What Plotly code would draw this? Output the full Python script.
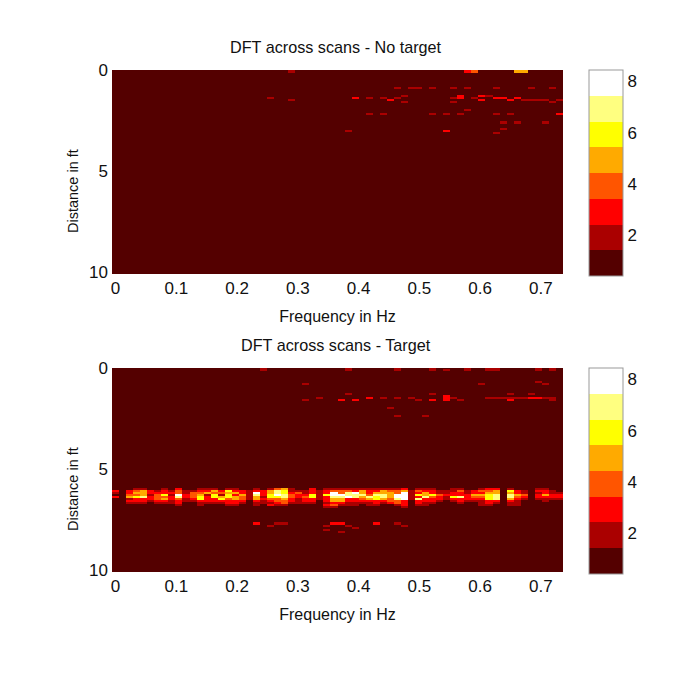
import numpy as np
import plotly.graph_objects as go

FREQ_STEP = 0.0116
DIST_STEP = 0.1
N_COLS = 64
N_ROWS = 102

# No target: isolated cells as (column index, row index, value)
no_target_cols = [25, 50, 51, 57, 58, 25, 50, 51, 57, 58,
                  22, 25,
                  40, 42, 43, 45, 48, 50, 54, 59, 62,
                  34, 36, 38, 39, 40, 41, 41, 48, 48, 49, 49,
                  51, 52, 52, 53, 54, 55, 56, 57, 58, 59, 60, 61, 62, 63,
                  50,
                  36, 38, 45, 47, 49, 54, 56, 63,
                  55, 57, 61, 55, 33, 47, 54]
no_target_rows = [0, 0, 0, 0, 0, 1, 1, 1, 1, 1,
                  14, 15,
                  9, 9, 9, 9, 9, 9, 9, 9, 9,
                  14, 14, 14, 15, 14, 13, 16, 14, 16, 13, 14,
                  14, 13, 15, 13, 14, 14, 15, 14, 15, 15, 15, 15, 16, 15,
                  20,
                  22, 22, 22, 22, 22, 22, 22, 22,
                  26, 26, 26, 29, 30, 30, 31]
no_target_vals = [2, 3, 4, 5, 5, 2, 3, 4, 5, 5,
                  2, 2,
                  2, 2, 2, 2, 2, 2, 2, 2, 2,
                  3, 2, 2, 3, 2, 2, 2, 2, 2, 3, 3,
                  2, 3, 3, 2, 3, 3, 3, 3, 2, 2, 2, 2, 2, 2,
                  2,
                  2, 2, 2, 2, 2, 2, 2, 3,
                  2, 2, 2, 2, 2, 3, 2]

# Target: isolated cells outside the main band
target_cols = [21, 33, 40, 45, 47, 50, 53, 54, 60, 62,
               21, 33, 40, 45, 50, 53, 54, 60, 62,
               27, 52, 60, 61,
               33, 45, 56, 59,
               29, 36, 38, 40, 42, 48, 53, 54, 55, 56, 57, 58, 59, 60, 61, 62,
               27, 32, 34, 43, 45, 47, 47, 47, 49, 56, 62,
               39, 40, 44,
               20, 22, 23, 24, 30, 31, 32, 33, 34, 37, 40, 41, 30, 32]
target_rows = [0, 0, 0, 0, 1, 0, 0, 0, 0, 0,
               1, 1, 1, 1, 1, 1, 1, 1, 1,
               8, 8, 7, 8,
               13, 13, 13, 13,
               15, 15, 15, 15, 15, 15, 15, 15, 15, 15, 15, 15, 15, 15, 15, 15,
               16, 16, 16, 16, 16, 14, 15, 16, 16, 16, 16,
               20, 24, 24,
               77, 78, 77, 77, 78, 77, 77, 78, 79, 77, 77, 78, 80, 81]
target_vals = [2, 2, 2, 2, 2, 2, 2, 2, 2, 2,
               2, 2, 2, 2, 2, 2, 2, 2, 2,
               2, 2, 2, 2,
               2, 2, 2, 2,
               2, 3, 2, 2, 2, 2, 2, 2, 2, 2, 2, 2, 3, 3, 2, 2,
               2, 3, 3, 2, 3, 3, 3, 3, 2, 3, 2,
               2, 2, 2,
               3, 2, 2, 2, 2, 3, 3, 2, 2, 3, 2, 2, 2, 2]

# Target: main band, one list per frequency column, rows 60..69
band_first_row = 60
band_columns = [
    [1,3,2,1,3,1,1,1,1,1], [1,1,1,1,1,1,1,1,1,1], [1,3,3,4,5,2,3,2,1,1], [2,4,5,4,6,3,3,2,1,1],
    [2,5,5,5,7,3,3,2,1,1], [1,3,3,2,3,3,2,1,1,1], [1,2,3,4,4,4,3,2,1,1], [2,3,3,6,4,5,3,2,1,1],
    [1,2,3,2,3,3,2,2,1,1], [3,4,4,8,7,4,3,3,2,1], [1,2,2,3,3,2,2,1,1,1], [1,2,4,4,4,3,2,1,1,1],
    [2,3,4,5,6,6,3,2,2,1], [2,3,5,2,3,3,3,2,1,1], [2,5,4,6,6,3,3,2,1,1], [1,3,4,2,5,6,3,2,1,1],
    [2,6,5,6,6,4,3,3,2,1], [2,3,5,3,5,5,3,3,2,1], [1,3,3,5,4,4,3,2,1,1], [1,2,2,2,2,2,1,1,1,1],
    [2,3,8,7,5,5,3,2,2,1], [1,3,3,3,2,3,2,2,1,1], [2,5,5,6,6,4,3,2,3,1], [4,7,7,8,6,4,4,3,2,1],
    [5,6,6,7,7,5,4,4,2,1], [2,2,3,4,4,3,3,2,1,1], [1,2,4,3,3,2,2,2,1,1], [1,2,2,3,4,3,3,2,1,1],
    [3,3,3,6,6,3,3,2,1,1], [1,2,2,2,2,2,1,1,1,1], [2,3,3,6,3,3,3,2,3,2], [2,4,8,8,7,5,5,3,4,2],
    [2,4,4,8,7,5,5,3,2,1], [2,4,7,7,8,3,3,2,2,1], [2,3,8,7,7,3,3,2,2,1], [2,5,5,7,5,4,3,2,1,1],
    [2,3,3,4,7,5,3,2,2,1], [2,3,5,7,6,6,3,3,2,1], [2,5,5,7,7,5,3,2,1,1], [2,4,5,5,5,4,4,3,1,1],
    [2,4,4,8,8,7,4,4,2,1], [3,5,8,8,8,8,3,3,3,2], [1,2,2,2,2,2,1,1,1,1], [2,4,3,6,3,7,3,3,2,1],
    [2,3,5,5,7,3,3,2,2,1], [2,3,3,6,4,3,3,2,1,1], [1,2,2,4,3,3,2,1,1,1], [1,2,2,3,2,2,1,1,1,1],
    [2,2,3,3,6,3,2,1,1,1], [2,4,3,3,7,3,3,2,1,1], [1,2,2,3,3,3,2,1,1,1], [1,3,3,5,4,3,2,1,1,1],
    [2,4,3,5,4,3,2,2,2,1], [3,4,5,6,6,6,3,3,2,1], [3,5,5,7,7,7,3,2,1,1], [1,1,1,1,1,1,1,1,1,1],
    [2,6,5,7,7,5,3,2,2,1], [1,3,3,5,4,3,2,2,2,1], [1,2,2,4,3,2,1,1,1,1], [1,1,1,1,1,1,1,1,1,1],
    [2,3,2,3,3,2,1,1,1,1], [2,3,3,5,3,2,2,1,1,1], [1,2,2,3,3,2,1,1,1,1], [1,1,2,3,3,2,1,1,1,1],
]

level_colors = ["#540000", "#AA0000", "#FF0000", "#FF5500",
                "#FFAA00", "#FFFF00", "#FFFF80", "#FFFFFF"]
tick_values = [2, 4, 6, 8]
freq_ticks = [0, 0.1, 0.2, 0.3, 0.4, 0.5, 0.6, 0.7]
freq_labels = ["0", "0.1", "0.2", "0.3", "0.4", "0.5", "0.6", "0.7"]
dist_ticks = [0, 5, 10]

W, H = 685, 687
FONT = "Liberation Sans"
TEXT = "#111111"
LEFT, RIGHT = 112, 563


def grid(cols, rows, vals):
    z = np.ones((N_ROWS, N_COLS))
    for c, r, v in zip(cols, rows, vals):
        z[r, c] = v
    return z


z_none = grid(no_target_cols, no_target_rows, no_target_vals)
z_target = grid(target_cols, target_rows, target_vals)
for c, column in enumerate(band_columns):
    for i, v in enumerate(column):
        z_target[band_first_row + i, c] = v

x = np.arange(N_COLS) * FREQ_STEP
y = np.arange(N_ROWS) * DIST_STEP

ZMIN, ZMAX = 0.4, 8.45
n = len(level_colors)
scale = []
for i, col in enumerate(level_colors):
    scale += [[i / n, col], [(i + 1) / n, col]]


def heat(z, xa, ya, top):
    return go.Heatmap(
        z=z, x=x, y=y, xaxis=xa, yaxis=ya, zmin=ZMIN, zmax=ZMAX,
        colorscale=scale,
        colorbar=dict(
            x=589 / W, xanchor="left", y=1 - top / H, yanchor="top",
            lenmode="pixels", len=206, thicknessmode="pixels", thickness=34,
            xpad=0, ypad=0, outlinecolor="#999999", outlinewidth=1,
            tickvals=tick_values, ticks="",
            tickfont=dict(family=FONT, size=17, color=TEXT),
        ),
    )


fig = go.Figure([heat(z_none, "x", "y", 70), heat(z_target, "x2", "y2", 368)])

xcommon = dict(
    range=[-FREQ_STEP / 2, 63.5 * FREQ_STEP], tickvals=freq_ticks, ticktext=freq_labels,
    showgrid=False, zeroline=False, ticks="", showline=False, ticklabelstandoff=2,
    tickfont=dict(family=FONT, size=17, color=TEXT),
    title=dict(text="Frequency in Hz", font=dict(family=FONT, size=16, color=TEXT), standoff=13),
    domain=[LEFT / W, RIGHT / W],
)
ycommon = dict(
    range=[10.1, 0], tickvals=dist_ticks, showgrid=False, zeroline=False, ticks="",
    showline=False, ticklabelstandoff=3, tickfont=dict(family=FONT, size=17, color=TEXT),
)


def label(text, px, py, size=16.2, angle=0):
    return dict(text=text, x=px / W, y=1 - py / H, xref="paper", yref="paper", showarrow=False,
                xanchor="center", yanchor="middle", textangle=angle,
                font=dict(family=FONT, size=size, color=TEXT))


fig.update_layout(
    width=W, height=H, autosize=False,
    margin=dict(l=0, r=0, t=0, b=0, autoexpand=False),
    paper_bgcolor="white", plot_bgcolor="white",
    font=dict(family=FONT, color=TEXT),
    xaxis=dict(xcommon, anchor="y"),
    xaxis2=dict(xcommon, anchor="y2"),
    yaxis=dict(ycommon, anchor="x", domain=[1 - 274 / H, 1 - 70 / H]),
    yaxis2=dict(ycommon, anchor="x2", domain=[1 - 572 / H, 1 - 368 / H]),
    annotations=[
        label("DFT across scans - No target", 336, 47),
        label("DFT across scans - Target", 336, 345),
        label("Distance in ft", 73, 191, size=14.5, angle=-90),
        label("Distance in ft", 73, 489, size=14.5, angle=-90),
    ],
)

fig.write_html("out.html", config={"displayModeBar": False},
               post_script="document.body.style.margin='0';")
